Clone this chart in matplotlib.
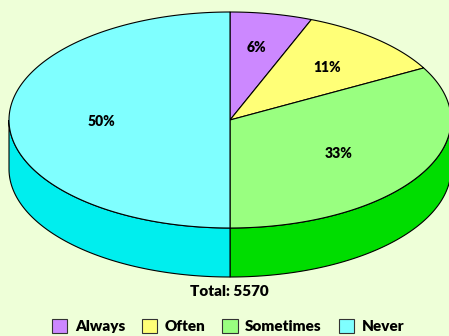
import numpy as np
import matplotlib
matplotlib.use("Agg")
import matplotlib.pyplot as plt
from matplotlib.patches import Polygon, Patch

categories = ["Always", "Often", "Sometimes", "Never"]
percents = [6, 11, 33, 50]
total = 5570
top_colors = ["#CC88FF", "#FFFF77", "#99FF80", "#7FFFFF"]
side_colors = ["#9955CC", "#CCCC00", "#00DD00", "#00EEEE"]
bg = "#EEFFD8"

W, H = 449, 336
fig = plt.figure(figsize=(W / 100, H / 100), dpi=100, facecolor=bg)
ax = fig.add_axes([0, 0, 1, 1])
ax.set_xlim(0, W)
ax.set_ylim(H, 0)
ax.axis("off")
ax.set_facecolor(bg)

cx, cy, rx, ry, depth = 230, 120, 221, 108, 49

def pt(theta_deg):
    t = np.radians(theta_deg)
    return cx + rx * np.sin(t), cy - ry * np.cos(t)

fracs = np.array(percents, dtype=float) / sum(percents)
bounds = np.concatenate([[0], np.cumsum(fracs) * 360])

# side walls (front half: 90..270 deg)
for i in range(len(categories)):
    a, b = bounds[i], bounds[i + 1]
    lo, hi = max(a, 90), min(b, 270)
    if hi <= lo:
        continue
    th = np.linspace(lo, hi, 100)
    xs, ys = pt(th)
    poly = list(zip(xs, ys)) + list(zip(xs[::-1], ys[::-1] + depth))
    ax.add_patch(Polygon(poly, closed=True, facecolor=side_colors[i],
                         edgecolor="black", linewidth=0.8, zorder=1))

# top wedges
for i in range(len(categories)):
    a, b = bounds[i], bounds[i + 1]
    th = np.linspace(a, b, 200)
    xs, ys = pt(th)
    poly = [(cx, cy)] + list(zip(xs, ys))
    ax.add_patch(Polygon(poly, closed=True, facecolor=top_colors[i],
                         edgecolor="black", linewidth=0.8, zorder=2))

# labels
label_pos = [(256, 48), (327, 68), (339, 154), (101, 122)]
for (x, y), p in zip(label_pos, percents):
    ax.text(x, y, f"{p}%", ha="center", va="center", fontsize=10,
            fontweight="heavy", family="Lato", zorder=3)

ax.text(229, 292, f"Total: {total}", ha="center", va="center", fontsize=11,
        fontweight="heavy", family="Lato")

handles = [Patch(facecolor=c, edgecolor="#333333", linewidth=0.8) for c in top_colors]
leg = fig.legend(handles, categories, loc="center", bbox_to_anchor=(228 / W, 1 - 326 / H),
                 ncol=4, frameon=False, prop={"family": "Lato", "weight": "heavy", "size": 11},
                 handlelength=1.0, handleheight=1.0, handletextpad=0.5, columnspacing=1.1,
                 borderpad=0)

fig.savefig("out.png", dpi=100, facecolor=bg)
